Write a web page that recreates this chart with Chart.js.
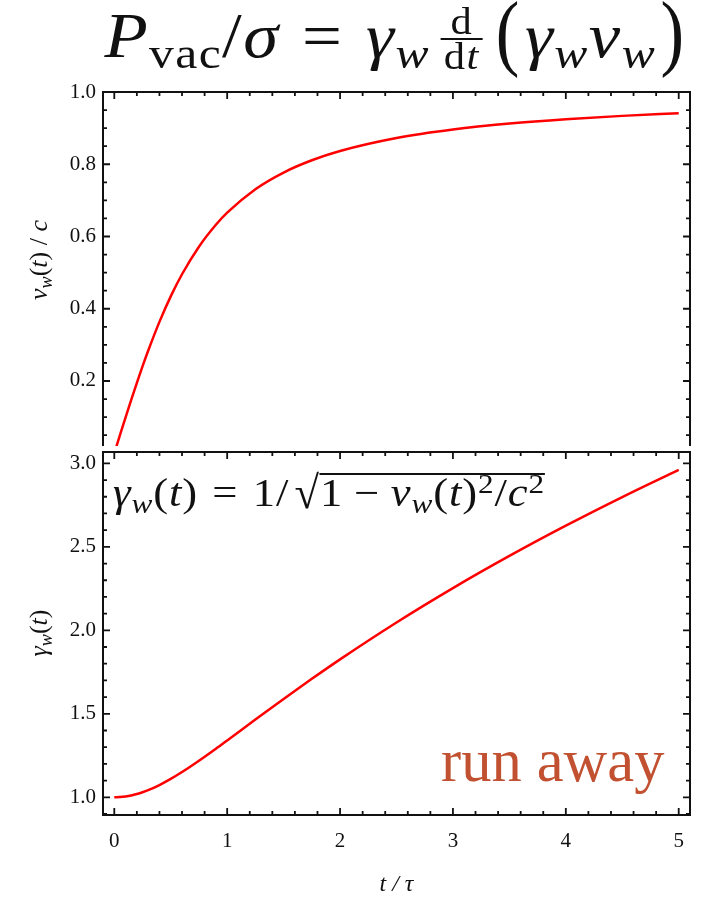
<!DOCTYPE html>
<html>
<head>
<meta charset="utf-8">
<script src="https://cdn.jsdelivr.net/npm/chart.js@4.4.1/dist/chart.umd.min.js"></script>
<style>
  html, body { margin: 0; padding: 0; background: #fff; }
  #wrap { position: relative; width: 708px; height: 905px; overflow: hidden;
          font-family: "Liberation Serif", serif; color: #111; }
  #wrap canvas { position: absolute; left: 0; top: 0; }
  .math { position: absolute; white-space: nowrap; }
  .math i { font-style: italic; }
  .sub { font-size: 0.7em; vertical-align: -0.25em; line-height: 0; }
  .sup { font-size: 0.7em; vertical-align: 0.45em; line-height: 0; }
  .rel { margin: 0 0.32em; }
  .bin { margin: 0 0.24em; }
  #title { left: 397px; top: -9px; font-size: 64px; line-height: 90px; letter-spacing: 0.02em;
           transform-origin: 50% 50%; transform: translateX(-50%); }
  #title .frac { display: inline-block; vertical-align: -12px; font-size: 0.6em;
                 line-height: 0.85; text-align: center; margin: 0 0.2em 0 0.25em; }
  #title .frac span { display: block; padding: 0 0.08em; }
  #title .frac .num { border-bottom: 2px solid #111; }
  #title .big { display: inline-block; transform: translateY(-4px) scaleY(1.32); margin: 0 0.06em; }
  #gamma { left: 113px; top: 463px; font-size: 40px; line-height: 60px; letter-spacing: 0.02em;
           transform-origin: 0 50%; }
  #gamma .rad { display: inline-block; transform: scaleY(1.15); margin-left: 0.12em; }
  #gamma .under { display: inline-block; line-height: 0.9; border-top: 2px solid #111; }
  .ytitle { position: absolute; white-space: nowrap; font-size: 26px; line-height: 1;
            transform: translate(-50%, -50%) rotate(-90deg); }
  #runaway { position: absolute; left: 441px; top: 731px; font-size: 60.5px;
             color: rgb(193, 81, 48); line-height: 1; white-space: nowrap; }
</style>
</head>
<body>
<div id="wrap">
  <canvas id="velocityChart" width="708" height="446"></canvas>
  <canvas id="gammaChart" width="708" height="905"></canvas>

  <div id="title" class="math"><i>P</i><span class="sub">vac</span>/<i>σ</i><span class="rel">=</span><i>γ</i><span class="sub"><i>w</i></span><span class="frac"><span class="num">d</span><span>d<i>t</i></span></span><span class="big">(</span><i>γ</i><span class="sub"><i>w</i></span><i>v</i><span class="sub"><i>w</i></span><span class="big">)</span></div>

  <div id="gamma" class="math"><i>γ</i><span class="sub"><i>w</i></span>(<i>t</i>)<span class="rel">=</span>1/<span class="rad">√</span><span class="under">1<span class="bin">−</span><i>v</i><span class="sub"><i>w</i></span>(<i>t</i>)<span class="sup">2</span>/<i>c</i><span class="sup">2</span></span></div>

  <div class="ytitle" style="left:39px; top:260px;"><i>v</i><span class="sub"><i>w</i></span>(<i>t</i>) / <i>c</i></div>
  <div class="ytitle" style="left:39px; top:633px;"><i>γ</i><span class="sub"><i>w</i></span>(<i>t</i>)</div>

  <div id="runaway">run away</div>
</div>

<script>
// t / tau samples and the two curves along them
const tValues  = [0, 0.05, 0.1, 0.15, 0.2, 0.25, 0.3, 0.4, 0.5, 0.6, 0.75, 0.9, 1.0,
                  1.25, 1.5, 1.75, 2.0, 2.5, 3.0, 3.5, 4.0, 4.5, 5.0];
const velocity = [0, 0.0499, 0.0993, 0.1478, 0.1949, 0.2402, 0.2836, 0.3636, 0.4342, 0.4955,
                  0.5718, 0.6325, 0.6660, 0.7310, 0.7771, 0.8110, 0.8367, 0.8726, 0.8961,
                  0.9126, 0.9247, 0.9339, 0.9412];
const lorentz  = [1.0, 1.0013, 1.0050, 1.0111, 1.0196, 1.0302, 1.0428, 1.0735, 1.1101, 1.1512,
                  1.2190, 1.2910, 1.3406, 1.4654, 1.5890, 1.7094, 1.8261, 2.0471, 2.2529,
                  2.4454, 2.6266, 2.7979, 2.9608];

// tick labels
const tTicks     = [0, 1, 2, 3, 4, 5];
const vTicks     = [0.2, 0.4, 0.6, 0.8, 1.0];
const gammaTicks = [1.0, 1.5, 2.0, 2.5, 3.0];

const tRange     = [-0.1, 5.1];
const vRange     = [0.02, 1.0];
const gammaRange = [0.894, 3.068];

const INK = '#111';
const tickFont = { family: 'Liberation Serif', size: 21 };

function pts(ys) {
  return tValues.map((t, i) => ({ x: t, y: ys[i] }));
}

function minorValues(major, parts, lo, hi) {
  const step = (major[1] - major[0]) / parts;
  const out = [];
  let v = major[0];
  while (v - step >= lo - 1e-9) v -= step;
  for (; v <= hi + 1e-9; v += step) {
    if (!major.some(m => Math.abs(m - v) < 1e-6)) out.push(v);
  }
  return out;
}

// frame with inward ticks on every side
const framePlugin = {
  id: 'frame',
  afterDraw(chart, args, opts) {
    const { ctx, chartArea: a } = chart;
    const xs = chart.scales.x, ys = chart.scales.y;
    ctx.save();
    ctx.strokeStyle = INK;
    ctx.lineWidth = 2;
    ctx.lineJoin = 'miter';
    ctx.beginPath();
    if (opts.bottom) {
      ctx.rect(a.left, a.top, a.right - a.left, a.bottom - a.top);
    } else {
      ctx.moveTo(a.left, a.bottom);
      ctx.lineTo(a.left, a.top);
      ctx.lineTo(a.right, a.top);
      ctx.lineTo(a.right, a.bottom);
    }
    ctx.stroke();

    ctx.lineWidth = 1.8;
    ctx.beginPath();
    const xMinor = minorValues(tTicks, 5, tRange[0], tRange[1]);
    const yMinor = minorValues(opts.yMajor, opts.yParts, opts.yRange[0], opts.yRange[1]);
    const xMarks = tTicks.map(v => [v, 7]).concat(xMinor.map(v => [v, 4]));
    const yMarks = opts.yMajor.map(v => [v, 7]).concat(yMinor.map(v => [v, 4]));
    xMarks.forEach(([v, len]) => {
      const px = xs.getPixelForValue(v);
      ctx.moveTo(px, a.top); ctx.lineTo(px, a.top + len);
      if (opts.bottom) { ctx.moveTo(px, a.bottom); ctx.lineTo(px, a.bottom - len); }
    });
    yMarks.forEach(([v, len]) => {
      const py = ys.getPixelForValue(v);
      ctx.moveTo(a.left, py); ctx.lineTo(a.left + len, py);
      ctx.moveTo(a.right, py); ctx.lineTo(a.right - len, py);
    });
    ctx.stroke();
    ctx.restore();
  }
};

function yScale(range, ticks) {
  return {
    type: 'linear',
    min: range[0],
    max: range[1],
    afterFit: s => { s.width = 103; s.paddingTop = 0; s.paddingBottom = 0; },
    afterBuildTicks: s => { s.ticks = ticks.map(v => ({ value: v })); },
    grid: { display: false, drawTicks: false },
    border: { display: false },
    ticks: { font: tickFont, color: INK, padding: 7, callback: v => v.toFixed(1) }
  };
}

function lineSet(ys) {
  return {
    data: pts(ys),
    borderColor: '#ff0000',
    borderWidth: 2.5,
    pointRadius: 0,
    cubicInterpolationMode: 'monotone',
    fill: false
  };
}

new Chart(document.getElementById('velocityChart'), {
  type: 'line',
  data: { datasets: [lineSet(velocity)] },
  options: {
    responsive: false,
    animation: false,
    layout: { padding: { top: 92, right: 18, bottom: 0, left: 0 } },
    plugins: { legend: { display: false }, tooltip: { enabled: false },
               frame: { bottom: false, yMajor: vTicks, yParts: 4, yRange: vRange } },
    scales: {
      x: { type: 'linear', min: tRange[0], max: tRange[1], display: false },
      y: yScale(vRange, vTicks)
    }
  },
  plugins: [framePlugin]
});

new Chart(document.getElementById('gammaChart'), {
  type: 'line',
  data: { datasets: [lineSet(lorentz)] },
  options: {
    responsive: false,
    animation: false,
    layout: { padding: { top: 452, right: 18, bottom: 0, left: 0 } },
    plugins: { legend: { display: false }, tooltip: { enabled: false },
               frame: { bottom: true, yMajor: gammaTicks, yParts: 5, yRange: gammaRange } },
    scales: {
      x: {
        type: 'linear',
        min: tRange[0],
        max: tRange[1],
        afterFit: s => { s.height = 90; },
        afterBuildTicks: s => { s.ticks = tTicks.map(v => ({ value: v })); },
        grid: { display: false, drawTicks: false },
        border: { display: false },
        ticks: { font: tickFont, color: INK, padding: 14, maxRotation: 0 },
        title: { display: true, text: 't / τ', color: INK, padding: { bottom: 6 },
                 font: { family: 'Liberation Serif', size: 24, style: 'italic' } }
      },
      y: yScale(gammaRange, gammaTicks)
    }
  },
  plugins: [framePlugin]
});

// stretch the two formulas to their typeset widths
function fitWidth(id, target, base) {
  const el = document.getElementById(id);
  const w = el.getBoundingClientRect().width;
  el.style.transform = base + ' scaleX(' + (target / w).toFixed(3) + ')';
}
fitWidth('title', 585, 'translateX(-50%)');
fitWidth('gamma', 432, '');
</script>
</body>
</html>
